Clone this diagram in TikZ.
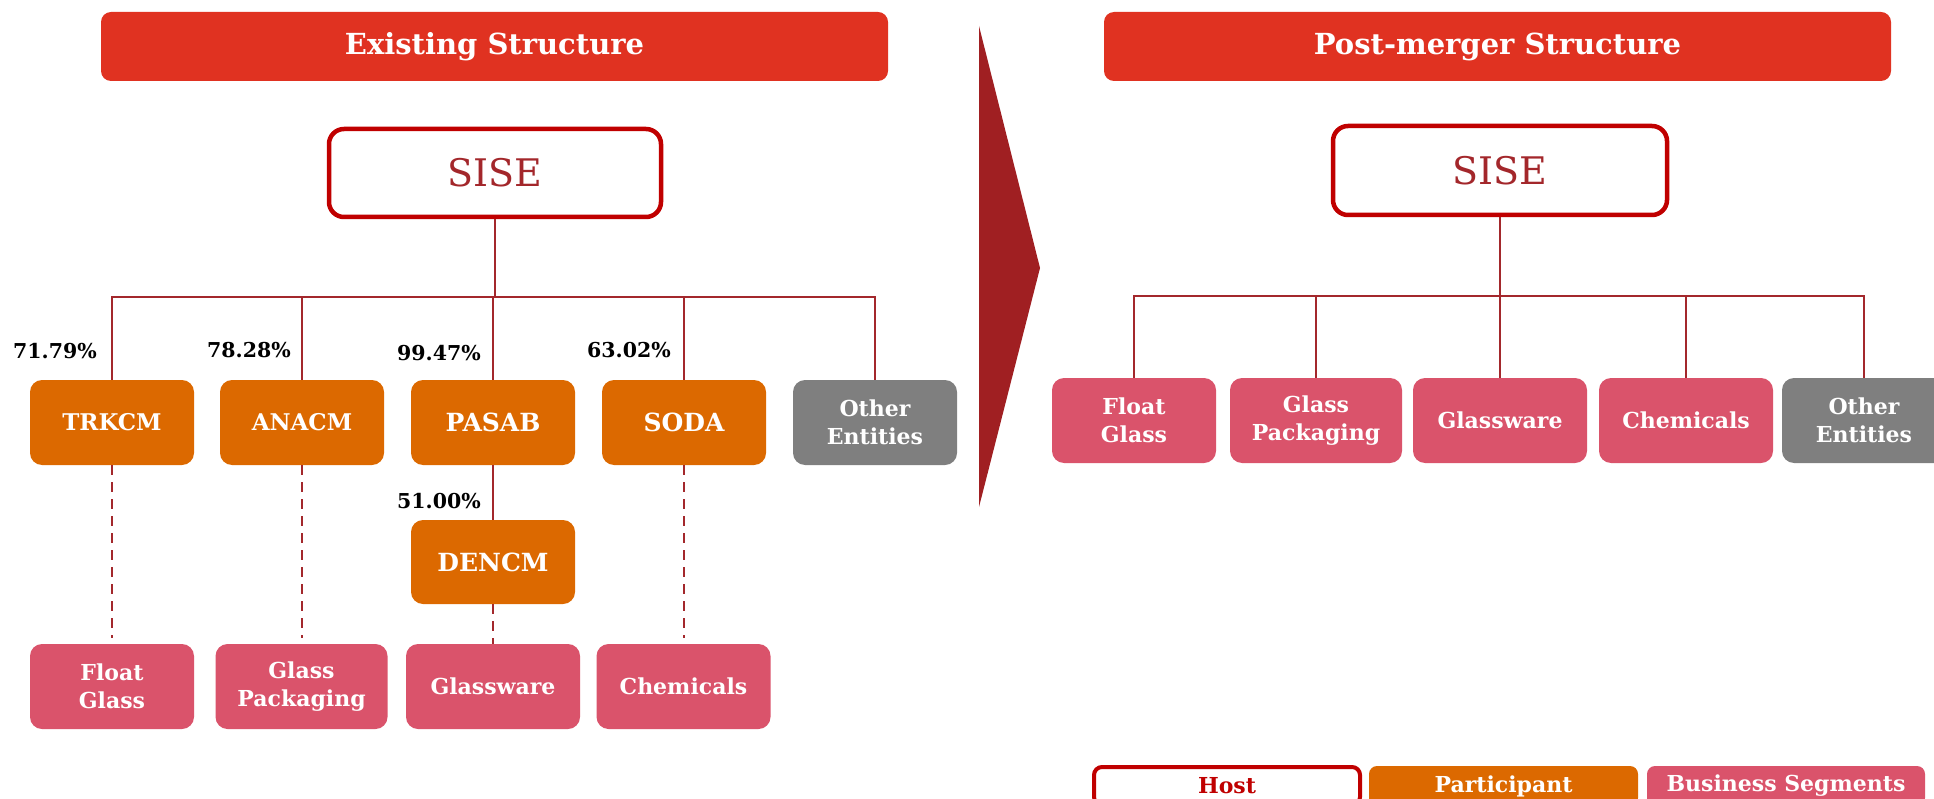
\documentclass[tikz,border=0pt]{standalone}
\usepackage{fontspec}
\setmainfont{DejaVu Serif}
\definecolor{titlered}{HTML}{E03221}
\definecolor{hostred}{HTML}{C00000}
\definecolor{sisetext}{HTML}{A3272B}
\definecolor{orangec}{HTML}{DC6900}
\definecolor{pinkc}{HTML}{DA536B}
\definecolor{grayc}{HTML}{7F7F7F}
\definecolor{connc}{HTML}{A3282C}
\definecolor{arrowred}{HTML}{A01F22}
\newcommand{\fsz}[2]{\fontsize{#1}{#2}\selectfont}
\tikzset{
  titlebox/.style={fill=titlered, rounded corners=10pt, minimum width=787pt, minimum height=69pt, inner sep=0pt, text=white, font=\bfseries\fsz{29}{35}},
  hostbox/.style={draw=hostred, line width=4.5pt, fill=white, rounded corners=15pt, minimum width=332pt, minimum height=88pt, inner sep=0pt, text=sisetext, font=\fsz{38}{44}},
  partbox/.style={fill=orangec, rounded corners=12pt, minimum width=164pt, minimum height=85pt, inner sep=0pt, text=white, align=center, font=\bfseries\fsz{23}{28}},
  segbox/.style={fill=pinkc, rounded corners=12pt, minimum height=85pt, inner sep=0pt, text=white, align=center, font=\bfseries\fsz{22}{28}},
  othbox/.style={fill=grayc, rounded corners=12pt, minimum width=164pt, minimum height=85pt, inner sep=0pt, text=white, align=center, font=\bfseries\fsz{22}{28}},
  pct/.style={inner sep=0pt, anchor=east, text=black, font=\bfseries\fsz{20.5}{24}},
  conn/.style={draw=connc, line width=2.3pt},
  dashconn/.style={draw=connc, line width=2.5pt, dash pattern=on 10pt off 7pt},
  legbox/.style={rounded corners=8pt, minimum height=40pt, inner sep=0pt, font=\bfseries\fsz{22}{26}}
}
\begin{document}
\begin{tikzpicture}[x=1pt,y=-1pt]
\useasboundingbox (0,0) rectangle (1934,799);
\begin{scope}
\clip (0,0) rectangle (1934,799);
% titles
\node[titlebox] (t1) at (494.5,46.5) {Existing Structure};
\node[titlebox] (t2) at (1497.5,46.5) {Post-merger Structure};
% big arrow
\fill[arrowred] (979,26) -- (1040,268) -- (979,507) -- cycle;

% ---------- left tree ----------
\node[hostbox] (sise1) at (495,173) {SISE};
\node[partbox] (trkcm) at (112,422.5) {TRKCM};
\node[partbox] (anacm) at (302,422.5) {ANACM};
\node[partbox, font=\bfseries\fsz{25}{30}] (pasab) at (493,422.5) {PASAB};
\node[partbox, font=\bfseries\fsz{25}{30}] (soda) at (684,422.5) {SODA};
\node[othbox] (oth1) at (875,422.5) {Other\\Entities};
\node[partbox, font=\bfseries\fsz{25}{30}, minimum height=84pt] (dencm) at (493,562) {DENCM};
\node[segbox, minimum width=164pt] (fg1) at (112,686.5) {Float\\Glass};
\node[segbox, minimum width=172pt] (gp1) at (301.5,686.5) {Glass\\Packaging};
\node[segbox, minimum width=174pt] (gw1) at (493,686.5) {Glassware};
\node[segbox, minimum width=174pt] (ch1) at (683.5,686.5) {Chemicals};

\coordinate (b1) at (495,297);
\draw[conn] (sise1.south) -- (b1);
\draw[conn] (trkcm.north) -- (trkcm.north |- b1) -- (oth1.north |- b1) -- (oth1.north);
\draw[conn] (anacm.north) -- (anacm.north |- b1);
\draw[conn] (pasab.north) -- (pasab.north |- b1);
\draw[conn] (soda.north) -- (soda.north |- b1);
\draw[conn] (pasab.south) -- (dencm.north);

\draw[dashconn, shorten >=6pt] (trkcm.south) -- (fg1.north);
\draw[dashconn, shorten >=6pt] (anacm.south) -- (anacm.south |- gp1.north);
\draw[dashconn] (dencm.south) -- (gw1.north);
\draw[dashconn, shorten >=6pt] (soda.south) -- (soda.south |- ch1.north);

\node[pct] (p1) at (97,351) {71.79\%};
\node[pct] (p2) at (291,350) {78.28\%};
\node[pct] (p3) at (481,353) {99.47\%};
\node[pct] (p4) at (671,350) {63.02\%};
\node[pct] (p5) at (481,501) {51.00\%};

% ---------- right tree ----------
\node[hostbox, minimum width=334pt, minimum height=89pt] (sise2) at (1500,170.5) {SISE};
\node[segbox, minimum width=164pt] (fg2) at (1134,420.5) {Float\\Glass};
\node[segbox, minimum width=172pt] (gp2) at (1316,420.5) {Glass\\Packaging};
\node[segbox, minimum width=174pt] (gw2) at (1500,420.5) {Glassware};
\node[segbox, minimum width=174pt] (ch2) at (1686,420.5) {Chemicals};
\node[othbox] (oth2) at (1864,420.5) {Other\\Entities};

\coordinate (b2) at (1500,296);
\draw[conn] (sise2.south) -- (b2);
\draw[conn] (fg2.north) -- (fg2.north |- b2) -- (oth2.north |- b2) -- (oth2.north);
\draw[conn] (gp2.north) -- (gp2.north |- b2);
\draw[conn] (gw2.north) -- (gw2.north |- b2);
\draw[conn] (ch2.north) -- (ch2.north |- b2);

% ---------- legend ----------
\node[legbox, draw=hostred, line width=4pt, fill=white, text=hostred, minimum width=266pt, minimum height=38pt] (lg1) at (1227,786) {Host};
\node[legbox, fill=orangec, text=white, minimum width=269pt] (lg2) at (1503.5,786) {Participant};
\node[legbox, fill=pinkc, text=white, minimum width=278pt] (lg3) at (1786,786) {Business Segments};
\end{scope}
\end{tikzpicture}
\end{document}
